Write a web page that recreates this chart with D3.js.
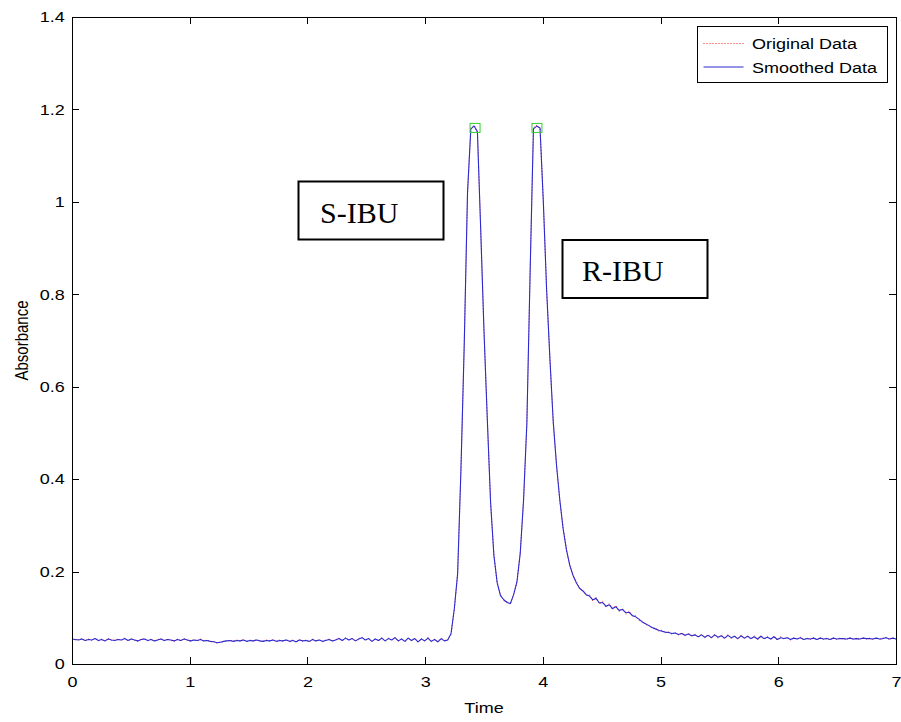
<!DOCTYPE html>
<html><head><meta charset="utf-8">
<script src="https://cdn.jsdelivr.net/npm/d3@7"></script>
<style>body{margin:0;background:#fff}</style>
</head><body><svg id="c" width="901" height="722"></svg>
<script>
// ---- DATA ----
const tStep = 0.028; // sampling interval of the chromatogram (time units)
const smoothedData = [
0.054,0.053,0.052,0.054,0.051,0.053,0.052,0.055,0.051,0.053,
0.050,0.054,0.052,0.051,0.053,0.052,0.055,0.051,0.054,0.052,
0.050,0.053,0.054,0.051,0.053,0.050,0.052,0.054,0.051,0.053,
0.052,0.050,0.053,0.051,0.054,0.052,0.050,0.052,0.051,0.053,
0.050,0.051,0.049,0.048,0.046,0.047,0.049,0.050,0.051,0.049,
0.051,0.050,0.052,0.049,0.051,0.050,0.052,0.050,0.049,0.051,
0.050,0.052,0.049,0.051,0.050,0.052,0.049,0.051,0.048,0.052,
0.050,0.051,0.049,0.053,0.050,0.052,0.049,0.051,0.053,0.050,
0.052,0.055,0.051,0.056,0.052,0.055,0.050,0.054,0.057,0.052,
0.055,0.049,0.054,0.051,0.056,0.050,0.055,0.052,0.057,0.050,
0.054,0.049,0.056,0.051,0.055,0.048,0.054,0.050,0.056,0.049,
0.053,0.048,0.055,0.050,
0.052,0.066,0.120,0.195,0.420,0.690,1.020,1.158,1.164,1.152,
0.940,0.720,0.530,0.350,0.235,0.176,0.148,0.139,0.133,0.131,
0.150,0.178,0.240,0.355,0.520,0.850,1.158,1.164,1.160,1.000,
0.810,0.660,0.525,0.430,0.355,0.293,0.248,0.214,0.192,0.176,
0.164,0.158,0.150,0.147,0.139,0.142,0.132,0.133,0.125,0.128,
0.120,0.124,0.116,0.118,0.111,0.112,0.105,0.102,0.097,0.091,
0.087,0.083,0.079,0.076,0.073,0.071,0.069,
0.068,0.066,0.067,0.064,0.066,0.062,0.065,0.061,0.063,0.059,
0.063,0.058,0.062,0.057,0.063,0.058,0.061,0.056,0.062,0.057,
0.060,0.055,0.061,0.056,0.060,0.055,0.059,0.054,0.060,0.055,
0.058,0.054,0.059,0.053,0.057,0.055,0.057,0.053,0.056,0.054,
0.057,0.053,0.055,0.054,0.056,0.053,0.056,0.054,0.055,0.053,
0.056,0.054,0.055,0.055,0.054,0.056,0.054,0.055,0.054,0.056,
0.055,0.055,0.054,0.056,0.054,0.055,0.057,0.054,0.056,0.054
];
const originalData = [
0.055,0.052,0.053,0.055,0.050,0.054,0.051,0.056,0.050,0.054,
0.049,0.055,0.051,0.052,0.054,0.051,0.056,0.050,0.055,0.051,
0.049,0.054,0.055,0.050,0.054,0.049,0.053,0.055,0.050,0.054,
0.051,0.049,0.054,0.050,0.055,0.051,0.049,0.053,0.050,0.054,
0.049,0.052,0.048,0.049,0.045,0.048,0.048,0.051,0.050,0.050,
0.052,0.049,0.053,0.048,0.052,0.049,0.053,0.049,0.050,0.052,
0.049,0.053,0.048,0.052,0.049,0.053,0.048,0.052,0.047,0.053,
0.049,0.052,0.048,0.054,0.049,0.053,0.048,0.052,0.054,0.049,
0.053,0.056,0.050,0.057,0.051,0.056,0.049,0.055,0.058,0.051,
0.056,0.048,0.055,0.050,0.057,0.049,0.056,0.051,0.058,0.049,
0.055,0.048,0.057,0.050,0.056,0.047,0.055,0.049,0.057,0.048,
0.054,0.047,0.056,0.051,
0.053,0.064,0.118,0.198,0.418,0.692,1.018,1.160,1.166,1.150,
0.942,0.718,0.532,0.348,0.237,0.174,0.150,0.137,0.135,0.129,
0.152,0.176,0.242,0.352,0.522,0.848,1.160,1.166,1.158,1.002,
0.808,0.662,0.523,0.432,0.353,0.295,0.246,0.216,0.190,0.179,
0.162,0.160,0.148,0.150,0.136,0.145,0.130,0.136,0.122,0.131,
0.117,0.127,0.113,0.121,0.108,0.115,0.102,0.105,0.094,0.093,
0.085,0.085,0.077,0.078,0.071,0.073,0.067,
0.070,0.064,0.069,0.062,0.068,0.060,0.067,0.059,0.065,0.057,
0.065,0.056,0.064,0.055,0.065,0.056,0.063,0.054,0.064,0.055,
0.062,0.053,0.063,0.054,0.062,0.053,0.061,0.052,0.062,0.053,
0.060,0.052,0.061,0.051,0.059,0.054,0.058,0.052,0.057,0.053,
0.058,0.052,0.056,0.053,0.057,0.052,0.057,0.053,0.056,0.052,
0.057,0.053,0.056,0.054,0.053,0.057,0.053,0.056,0.053,0.057,
0.054,0.056,0.053,0.057,0.053,0.056,0.058,0.053,0.057,0.053
];
const peakTimes = [3.424, 3.95];
const peakValues = [1.16, 1.16];
const xTicks = [0,1,2,3,4,5,6,7];
const xTickLabels = ["0","1","2","3","4","5","6","7"];
const yTicks = [0,0.2,0.4,0.6,0.8,1,1.2,1.4];
const yTickLabels = ["0","0.2","0.4","0.6","0.8","1","1.2","1.4"];
const legendLabels = ["Original Data","Smoothed Data"];
const annotationLabels = ["S-IBU","R-IBU"];
const xTitle = "Time", yTitle = "Absorbance";

// ---- LAYOUT ----
const W = 901, H = 722;
const P = {left:72, right:896, top:17, bottom:664};
const sans = "'Liberation Sans', Arial, Helvetica, sans-serif";
const serif = "'Liberation Serif', 'Times New Roman', serif";
const stretch = "scale(1.2,1)";

const svg = d3.select("#c");
svg.append("rect").attr("width",W).attr("height",H).attr("fill","#fff");

const x = d3.scaleLinear().domain([0,7]).range([P.left,P.right]);
const y = d3.scaleLinear().domain([0,1.4]).range([P.bottom,P.top]);
const times = smoothedData.map((_,i)=>i*tStep);

// lines
const line = d3.line().x((d,i)=>x(times[i])).y(d=>y(d));
svg.append("path").datum(originalData).attr("d",line)
  .attr("fill","none").attr("stroke","#ff2020").attr("stroke-width",1)
  .attr("stroke-dasharray","1,2");
svg.append("path").datum(smoothedData).attr("d",line)
  .attr("fill","none").attr("stroke","#2a2ad0").attr("stroke-width",1.1)
  .attr("stroke-linejoin","round");

// peak markers
svg.selectAll("rect.pk").data(peakTimes).enter().append("rect")
  .attr("class","pk")
  .attr("x",d=>x(d)-5).attr("y",(d,i)=>y(peakValues[i])-4.5)
  .attr("width",10).attr("height",9)
  .attr("fill","none").attr("stroke","#33cc33").attr("stroke-width",1);

// axes
function styleAxis(g){
  g.attr("font-family",sans).attr("font-size",15);
  g.select(".domain").remove();
  g.selectAll(".tick line").attr("stroke","#000").attr("shape-rendering","crispEdges");
  g.selectAll(".tick text").attr("fill","#000");
}
const gx = svg.append("g").attr("transform",`translate(0,${P.bottom})`)
  .call(d3.axisBottom(x).tickValues(xTicks).tickSize(-7).tickSizeOuter(0).tickPadding(12)
    .tickFormat((d,i)=>xTickLabels[i]));
styleAxis(gx);
gx.selectAll(".tick text").attr("transform",stretch);

const gy = svg.append("g").attr("transform",`translate(${P.left},0)`)
  .call(d3.axisLeft(y).tickValues(yTicks).tickSize(-7).tickSizeOuter(0).tickPadding(6)
    .tickFormat((d,i)=>yTickLabels[i]));
styleAxis(gy);
gy.selectAll(".tick text").attr("transform",stretch);

const gt = svg.append("g").attr("transform",`translate(0,${P.top})`)
  .call(d3.axisTop(x).tickValues(xTicks).tickSize(-7).tickSizeOuter(0).tickFormat(""));
styleAxis(gt);
const gr = svg.append("g").attr("transform",`translate(${P.right},0)`)
  .call(d3.axisRight(y).tickValues(yTicks).tickSize(-7).tickSizeOuter(0).tickFormat(""));
styleAxis(gr);

// frame
svg.append("rect").attr("x",P.left+0.5).attr("y",P.top+0.5)
  .attr("width",P.right-P.left).attr("height",P.bottom-P.top)
  .attr("fill","none").attr("stroke","#000").attr("stroke-width",1);

// axis titles
svg.append("text").attr("transform",`translate(${(P.left+P.right)/2},713) ${stretch}`)
  .attr("text-anchor","middle").attr("font-family",sans).attr("font-size",15).text(xTitle);
svg.append("text").attr("transform",`translate(28,${(P.top+P.bottom)/2}) ${stretch} rotate(-90)`)
  .attr("text-anchor","middle").attr("font-family",sans).attr("font-size",15).text(yTitle);

// legend
const L = {x:697.5, y:26.5, w:190, h:56};
svg.append("rect").attr("x",L.x).attr("y",L.y).attr("width",L.w).attr("height",L.h)
  .attr("fill","#fff").attr("stroke","#000").attr("stroke-width",1);
const legendStyles = [{c:"#ff2020",dash:"1,2"},{c:"#2a2ad0",dash:null}];
legendLabels.forEach((lab,i)=>{
  const yy = L.y + 17 + i*23.5;
  svg.append("line").attr("x1",L.x+6).attr("x2",L.x+46).attr("y1",yy).attr("y2",yy)
    .attr("stroke",legendStyles[i].c).attr("stroke-width",1)
    .attr("stroke-dasharray",legendStyles[i].dash);
  svg.append("text").attr("transform",`translate(${L.x+54.5},${yy+5.5}) ${stretch}`)
    .attr("font-family",sans).attr("font-size",15).text(lab);
});

// annotation boxes
const boxes = [{x:298.5,y:181.5,w:145,h:58,tx:320,ty:223},{x:562.5,y:240,w:145,h:58,tx:582,ty:281}];
annotationLabels.forEach((lab,i)=>{
  const b = boxes[i];
  svg.append("rect").attr("x",b.x).attr("y",b.y).attr("width",b.w).attr("height",b.h)
    .attr("fill","#fff").attr("stroke","#000").attr("stroke-width",2);
  svg.append("text").attr("x",b.tx).attr("y",b.ty).attr("font-family",serif)
    .attr("font-size",30).attr("fill","#000").text(lab);
});
</script>
</body></html>
